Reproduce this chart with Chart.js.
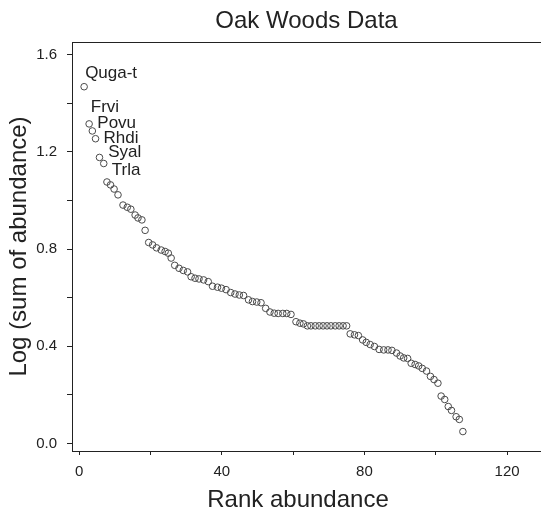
<!DOCTYPE html>
<html><head><meta charset="utf-8">
<script src="https://cdn.jsdelivr.net/npm/chart.js@4/dist/chart.umd.min.js"></script>
<style>html,body{margin:0;padding:0;background:#fff;} #wrap{width:541px;height:513px;}</style>
</head><body><div id="wrap"><canvas id="c" width="541" height="513"></canvas></div>
<script>
// ---- data ----
const ranks = [1.4,2.8,3.7,4.6,5.7,6.9,7.8,8.8,9.8,10.9,12.3,13.5,14.5,15.7,16.5,17.6,18.5,19.5,20.6,21.7,
  23.0,24.1,25.0,25.8,26.8,28.0,29.2,30.4,31.4,32.5,33.6,34.9,36.2,37.4,38.8,39.9,41.2,42.5,43.7,44.9,
  46.1,47.5,48.6,49.8,51.0,52.3,53.5,54.7,55.8,57.1,58.2,59.4,60.8,61.9,62.9,64.0,65.0,66.2,67.3,68.4,
  69.5,70.6,71.8,72.9,74.0,75.0,76.0,77.2,78.3,79.5,80.5,81.6,82.8,84.1,85.4,86.6,87.7,89.0,90.0,91.0,
  92.1,93.1,94.2,95.2,96.2,97.4,98.5,99.5,100.6,101.5,102.5,103.5,104.4,105.7,106.6,107.6];
const logAbund = [1.468,1.315,1.286,1.254,1.177,1.152,1.076,1.064,1.047,1.023,0.981,0.972,0.964,0.940,0.928,0.920,
  0.877,0.827,0.817,0.805,0.796,0.790,0.783,0.763,0.733,0.721,0.712,0.706,0.686,0.680,0.677,0.673,0.666,
  0.647,0.643,0.639,0.633,0.621,0.615,0.611,0.609,0.591,0.584,0.582,0.579,0.556,0.541,0.536,0.535,0.535,
  0.535,0.531,0.501,0.495,0.492,0.484,0.484,0.484,0.484,0.484,0.484,0.484,0.484,0.484,0.484,0.484,
  0.451,0.447,0.444,0.426,0.416,0.407,0.399,0.387,0.385,0.385,0.383,0.372,0.360,0.352,0.350,0.330,0.325,
  0.319,0.309,0.298,0.276,0.263,0.248,0.195,0.181,0.152,0.136,0.110,0.099,0.049];
const speciesLabels = ['Quga-t','Frvi','Povu','Rhdi','Syal','Trla']; // labels of the first six points
const xTickValues = [0,20,40,60,80,100,120];
const xTickLabels = ['0','','40','','80','','120'];
const yTickValues = [0,0.2,0.4,0.6,0.8,1.0,1.2,1.4,1.6];
const yTickLabels = ['0.0','','0.4','','0.8','','1.2','','1.6'];
const xTitle = 'Rank abundance';
const yTitle = 'Log (sum of abundance)';

// ---- styling ----
const labelOffsets = [[1,-9],[1.7,-12.3],[5,-2.7],[8,4.6],[8.8,0],[8,11.5]];
const INK = '#222';
const FONT = '"Liberation Sans", Arial, Helvetica, sans-serif';

const labelPlugin = {
  id: 'labels',
  afterDatasetsDraw(chart) {
    const {ctx, scales: {x, y}, chartArea: a} = chart;
    ctx.save();
    ctx.font = '17px ' + FONT;
    ctx.fillStyle = INK;
    ctx.textBaseline = 'alphabetic';
    ctx.textAlign = 'left';
    speciesLabels.forEach((t, i) => {
      const px = x.getPixelForValue(ranks[i]) + labelOffsets[i][0];
      const py = y.getPixelForValue(logAbund[i]) + labelOffsets[i][1];
      ctx.fillText(t, px, py);
    });
    // x axis title
    ctx.font = '24px ' + FONT;
    ctx.textAlign = 'center';
    ctx.textBaseline = 'middle';
    ctx.fillText(xTitle, a.left + 226, 500);
    ctx.restore();
  }
};
const frameTop = {
  id: 'frameTop',
  afterDraw(chart) {
    const {ctx, chartArea: a} = chart;
    ctx.save();
    ctx.strokeStyle = INK; ctx.lineWidth = 1;
    ctx.beginPath();
    ctx.moveTo(a.left, Math.round(a.top) + 0.5);
    ctx.lineTo(chart.width, Math.round(a.top) + 0.5);
    ctx.stroke();
    ctx.restore();
  }
};

Chart.defaults.font.family = FONT;
Chart.defaults.color = INK;

new Chart(document.getElementById('c'), {
  type: 'scatter',
  data: {
    datasets: [{
      data: ranks.map((r, i) => ({x: r, y: logAbund[i]})),
      pointStyle: 'circle',
      pointRadius: 3.3,
      pointBorderWidth: 1,
      pointBorderColor: '#4a4a4a',
      pointBackgroundColor: 'rgba(0,0,0,0)'
    }]
  },
  options: {
    responsive: false,
    animation: false,
    layout: {padding: 0, autoPadding: false},
    plugins: {
      legend: {display: false},
      tooltip: {enabled: false},
      title: {
        display: true, text: 'Oak Woods Data', fullSize: false,
        font: {size: 24, weight: 'normal'}, color: INK,
        padding: {top: 7, bottom: 6.2}
      }
    },
    scales: {
      x: {
        type: 'linear', min: -2, max: 129.5,
        afterBuildTicks: s => { s.ticks = xTickValues.map(v => ({value: v})); },
        afterFit: s => { s.height = 62; s.paddingRight = 0; s.paddingLeft = 0; },
        ticks: {autoSkip: false, maxRotation: 0, padding: 8, font: {size: 15}, color: INK,
          callback: (v, i) => xTickLabels[i]},
        grid: {drawOnChartArea: false, drawTicks: true, tickLength: 4, color: INK},
        border: {display: true, color: INK, width: 1},
        title: {display: false}
      },
      y: {
        type: 'linear', min: -0.031, max: 1.652,
        afterBuildTicks: s => { s.ticks = yTickValues.map(v => ({value: v})); },
        afterFit: s => { s.width = 72; s.paddingTop = 0; s.paddingBottom = 0; },
        ticks: {autoSkip: false, padding: 10, font: {size: 15}, color: INK,
          callback: (v, i) => yTickLabels[i]},
        grid: {drawOnChartArea: false, drawTicks: true, tickLength: 5, color: INK},
        border: {display: true, color: INK, width: 1},
        title: {display: true, text: yTitle, font: {size: 24, lineHeight: 1}, color: INK,
          padding: {top: 7, bottom: 0}}
      }
    }
  },
  plugins: [labelPlugin, frameTop]
});
</script>
</body></html>
